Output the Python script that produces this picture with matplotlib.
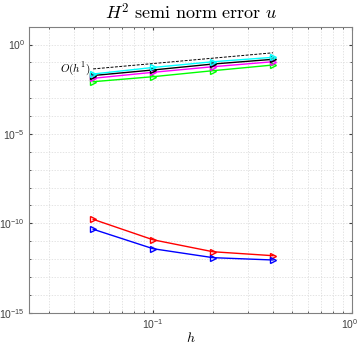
import matplotlib
matplotlib.use("Agg")
import matplotlib.pyplot as plt
from matplotlib.ticker import LogLocator, NullFormatter, FixedLocator
from matplotlib.transforms import ScaledTranslation

plt.rcParams['font.family'] = ['Liberation Sans', 'DejaVu Sans']
plt.rcParams['mathtext.fontset'] = 'cm'

# data
h = [0.05, 0.1, 0.2, 0.4]
err_cyan = [0.0226, 0.0525, 0.110, 0.194]
err_black = [0.0186, 0.038, 0.0818, 0.150]
err_magenta = [0.0130, 0.0282, 0.0578, 0.110]
err_green = [0.00838, 0.0160, 0.0347, 0.072]
err_red = [1.68e-10, 1.2e-11, 2.57e-12, 1.55e-12]
err_blue = [4.68e-11, 3.8e-12, 1.2e-12, 8.9e-13]
ref_const = 0.87
ref_vals = [ref_const * v for v in h]

series = [
    (err_red, '#FF0000'),
    (err_blue, '#0000FF'),
    (err_green, '#00FF00'),
    (err_magenta, '#FF00FF'),
    (err_black, '#000000'),
    (err_cyan, '#00FFFF'),
]

fig = plt.figure(figsize=(3.59, 3.46), dpi=100)
ax = fig.add_axes([0.0816, 0.0962, 0.9813 - 0.0816, 0.9228 - 0.0962])

for vals, col in series:
    ax.loglog(h, vals, '-', color=col, lw=1.0, marker='>', markersize=4.5,
              markerfacecolor='none', markeredgecolor=col, markeredgewidth=1.0)

ax.loglog(h, ref_vals, '--', color='black', lw=0.7, dashes=(3, 1.5))
ax.annotate(r'$O(h^1)$', xy=(h[0], ref_vals[0]), xytext=(-2, 0),
            textcoords='offset points', ha='right', va='center', fontsize=8)

ax.set_xlim(0.0239, 1.0)
ax.set_ylim(1e-15, 1e1)

ax.yaxis.set_major_locator(FixedLocator([1e-15, 1e-10, 1e-5, 1e0]))
ax.yaxis.set_minor_locator(FixedLocator([10.0 ** k for k in range(-15, 2)]))
ax.yaxis.set_minor_formatter(NullFormatter())
ax.xaxis.set_major_locator(LogLocator(base=10))
ax.xaxis.set_minor_locator(LogLocator(base=10, subs=range(2, 10)))
ax.xaxis.set_minor_formatter(NullFormatter())

ax.grid(True, which='both', linestyle=(0, (2, 2)), color='#d9d9d9', lw=0.5)
ax.tick_params(which='both', direction='in', top=True, right=True,
               labelsize=7.5, colors='#404040', length=2.5)
ax.tick_params(which='minor', length=1.5)
ax.tick_params(axis='y', pad=3)
for s in ax.spines.values():
    s.set_color('#808080')
    s.set_linewidth(0.8)

ax.set_title(r'$H^2\ \mathrm{semi\ norm\ error}\ u$', fontsize=13, pad=5)
ax.set_xlabel(r'$h$', fontsize=10, labelpad=0)

fig.canvas.draw()
for tick in ax.xaxis.get_major_ticks():
    if abs(tick.get_loc() - 1.0) < 1e-9:
        tick.label1.set_transform(tick.label1.get_transform() +
                                  ScaledTranslation(-3 / 100, 0, fig.dpi_scale_trans))

fig.savefig('out.png', dpi=100)
